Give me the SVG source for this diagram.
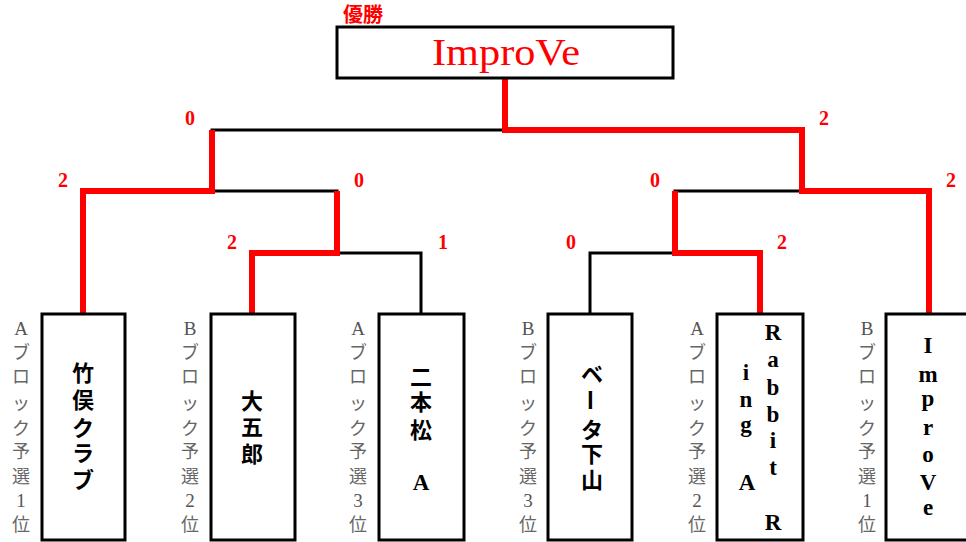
<svg xmlns="http://www.w3.org/2000/svg" width="966" height="542" viewBox="0 0 966 542">
<style>
.box{fill:#fff;stroke:#000;stroke-width:3}
.bk{fill:none;stroke:#000;stroke-width:3;stroke-linecap:square}
.rd{fill:none;stroke:#f00;stroke-width:6;stroke-linejoin:miter}
.sc{font-family:"Liberation Serif","DejaVu Serif",serif;font-weight:bold;font-size:20px;fill:#f00;text-anchor:middle}
.lab{font-family:"Liberation Serif","Noto Sans CJK JP",serif;font-size:19px;fill:#555;text-anchor:middle}
.labj{font-family:"Noto Sans CJK JP",sans-serif;font-size:18px;fill:#666;text-anchor:middle;dominant-baseline:central}
.nj{font-family:"Noto Sans CJK JP",sans-serif;font-size:22px;font-weight:bold;fill:#000;text-anchor:middle;dominant-baseline:central}
.nl{font-family:"Liberation Serif","DejaVu Serif",serif;font-size:23px;font-weight:bold;fill:#000;text-anchor:middle}
</style>
<rect width="966" height="542" fill="#fff"/>

<g id="connectors">
  <polyline class="bk" points="212,130 505,130"/>
  <polyline class="bk" points="212,191 337,191"/>
  <polyline class="bk" points="337,253 421,253 421,314"/>
  <polyline class="bk" points="675,191 802,191"/>
  <polyline class="bk" points="590,314 590,253 675,253"/>
  <polyline class="rd" points="83,314 83,191 212,191 212,130"/>
  <polyline class="rd" points="252,314 252,253 337,253 337,191"/>
  <polyline class="rd" points="505,78 505,130 802,130 802,191 929,191 929,314"/>
  <polyline class="rd" points="760,314 760,253 675,253 675,191"/>
</g>

<g id="scores">
  <text class="sc" x="190" y="125">0</text>
  <text class="sc" x="824" y="125">2</text>
  <text class="sc" x="63" y="187">2</text>
  <text class="sc" x="359" y="187">0</text>
  <text class="sc" x="655" y="187">0</text>
  <text class="sc" x="951" y="187">2</text>
  <text class="sc" x="232" y="249">2</text>
  <text class="sc" x="443" y="249">1</text>
  <text class="sc" x="571" y="249">0</text>
  <text class="sc" x="782" y="249">2</text>
</g>

<g id="champion">
  <text x="363" y="22" style="font-family:'Noto Sans CJK JP',sans-serif;font-size:20px;font-weight:bold;fill:#f00;text-anchor:middle">優勝</text>
  <rect class="box" x="337" y="27" width="336" height="51"/>
  <text x="506" y="65" textLength="148" lengthAdjust="spacingAndGlyphs" style="font-family:'Liberation Serif',serif;font-size:37px;fill:#f00;text-anchor:middle">ImproVe</text>
</g>

<g id="team1">
  <rect class="box" x="42" y="314" width="83" height="226"/>
  <text class="nj"><tspan x="83" y="371">竹</tspan><tspan x="83" y="398">俣</tspan><tspan x="83" y="426">ク</tspan><tspan x="83" y="451">ラ</tspan><tspan x="83" y="478">ブ</tspan></text>
</g>
<g id="team2">
  <rect class="box" x="211" y="314" width="84" height="226"/>
  <text class="nj"><tspan x="252" y="399">大</tspan><tspan x="252" y="425">五</tspan><tspan x="252" y="452">郎</tspan></text>
</g>
<g id="team3">
  <rect class="box" x="379" y="314" width="85" height="226"/>
  <text class="nj"><tspan x="421" y="375">二</tspan><tspan x="421" y="400">本</tspan><tspan x="421" y="428">松</tspan></text>
  <text class="nl" x="421" y="490">A</text>
</g>
<g id="team4">
  <rect class="box" x="548" y="314" width="84" height="226"/>
  <text class="nj"><tspan x="592" y="372">ベ</tspan><tspan x="592" y="428">タ</tspan><tspan x="592" y="452">下</tspan><tspan x="592" y="478">山</tspan></text>
  <text class="nj" x="592" y="400" transform="rotate(90 592 400)">ー</text>
</g>
<g id="team5">
  <rect class="box" x="717" y="314" width="86" height="226"/>
  <text class="nl"><tspan x="773" y="340">R</tspan><tspan x="773" y="367">a</tspan><tspan x="773" y="395">b</tspan><tspan x="773" y="422">b</tspan><tspan x="773" y="448">i</tspan><tspan x="773" y="475">t</tspan><tspan x="773" y="530">R</tspan></text>
  <text class="nl"><tspan x="746" y="380">i</tspan><tspan x="746" y="407">n</tspan><tspan x="746" y="432">g</tspan><tspan x="747" y="490">A</tspan></text>
</g>
<g id="team6">
  <rect class="box" x="886" y="314" width="86" height="226"/>
  <text class="nl"><tspan x="928" y="353">I</tspan><tspan x="928" y="382">m</tspan><tspan x="928" y="406">p</tspan><tspan x="928" y="435">r</tspan><tspan x="928" y="462">o</tspan><tspan x="928" y="490">V</tspan><tspan x="928" y="515">e</tspan></text>
</g>

<g id="labels">
  <g id="label1">
    <text class="lab" x="21" y="335">A</text>
    <text class="labj"><tspan x="21" y="351">ブ</tspan><tspan x="21" y="375">ロ</tspan><tspan x="21" y="402">ッ</tspan><tspan x="21" y="427">ク</tspan><tspan x="21" y="450">予</tspan><tspan x="21" y="475">選</tspan><tspan x="21" y="523">位</tspan></text>
    <text class="lab" x="21" y="507">1</text>
  </g>
  <g id="label2">
    <text class="lab" x="190" y="335">B</text>
    <text class="labj"><tspan x="190" y="351">ブ</tspan><tspan x="190" y="375">ロ</tspan><tspan x="190" y="402">ッ</tspan><tspan x="190" y="427">ク</tspan><tspan x="190" y="450">予</tspan><tspan x="190" y="475">選</tspan><tspan x="190" y="523">位</tspan></text>
    <text class="lab" x="190" y="507">2</text>
  </g>
  <g id="label3">
    <text class="lab" x="358" y="335">A</text>
    <text class="labj"><tspan x="358" y="351">ブ</tspan><tspan x="358" y="375">ロ</tspan><tspan x="358" y="402">ッ</tspan><tspan x="358" y="427">ク</tspan><tspan x="358" y="450">予</tspan><tspan x="358" y="475">選</tspan><tspan x="358" y="523">位</tspan></text>
    <text class="lab" x="358" y="507">3</text>
  </g>
  <g id="label4">
    <text class="lab" x="528" y="335">B</text>
    <text class="labj"><tspan x="528" y="351">ブ</tspan><tspan x="528" y="375">ロ</tspan><tspan x="528" y="402">ッ</tspan><tspan x="528" y="427">ク</tspan><tspan x="528" y="450">予</tspan><tspan x="528" y="475">選</tspan><tspan x="528" y="523">位</tspan></text>
    <text class="lab" x="528" y="507">3</text>
  </g>
  <g id="label5">
    <text class="lab" x="697" y="335">A</text>
    <text class="labj"><tspan x="697" y="351">ブ</tspan><tspan x="697" y="375">ロ</tspan><tspan x="697" y="402">ッ</tspan><tspan x="697" y="427">ク</tspan><tspan x="697" y="450">予</tspan><tspan x="697" y="475">選</tspan><tspan x="697" y="523">位</tspan></text>
    <text class="lab" x="697" y="507">2</text>
  </g>
  <g id="label6">
    <text class="lab" x="867" y="335">B</text>
    <text class="labj"><tspan x="867" y="351">ブ</tspan><tspan x="867" y="375">ロ</tspan><tspan x="867" y="402">ッ</tspan><tspan x="867" y="427">ク</tspan><tspan x="867" y="450">予</tspan><tspan x="867" y="475">選</tspan><tspan x="867" y="523">位</tspan></text>
    <text class="lab" x="867" y="507">1</text>
  </g>
</g>
</svg>
